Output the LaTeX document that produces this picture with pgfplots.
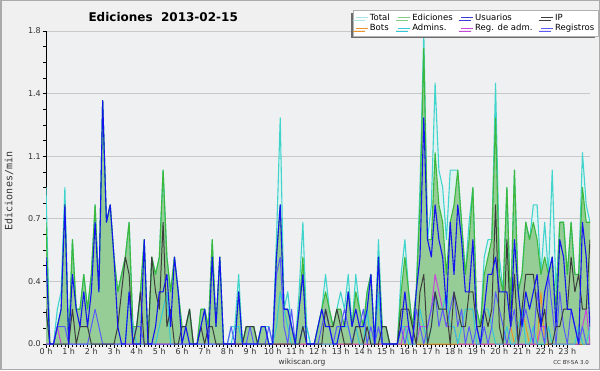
\documentclass[border=0pt]{standalone}
\usepackage{pgfplots}
\pgfplotsset{compat=1.18}
\usepackage{pgfplotstable}
\usepackage{fontspec}
\setmainfont{DejaVu Sans}
\newfontfamily\monofont{DejaVu Sans Mono}
\usetikzlibrary{shadows}

\definecolor{pagebg}{RGB}{240,240,240}
\definecolor{framec}{RGB}{170,170,170}
\definecolor{plotbg}{RGB}{238,240,241}
\definecolor{gridc}{RGB}{200,200,200}
\definecolor{totline}{RGB}{64,212,205}
\definecolor{totfill}{RGB}{222,243,241}
\definecolor{totleg}{RGB}{170,228,228}
\definecolor{edline}{RGB}{60,185,60}
\definecolor{edfill}{RGB}{150,205,150}
\definecolor{edleg}{RGB}{130,205,130}
\definecolor{usu}{RGB}{20,20,240}
\definecolor{usuleg}{RGB}{60,60,220}
\definecolor{ipc}{RGB}{60,60,60}
\definecolor{bots}{RGB}{240,150,40}
\definecolor{adm}{RGB}{50,200,215}
\definecolor{regadm}{RGB}{200,70,220}
\definecolor{reg}{RGB}{90,90,250}
\definecolor{ticklab}{RGB}{51,51,51}

\pgfplotstableread{
i T E U P B A M R
0 0.9 0.7 0.5 0.2 0 0.2 0 0
1 0 0 0 0 0 0 0 0
2 0 0 0 0 0 0 0 0
3 0.2 0.1 0.1 0 0 0 0.1 0.1
4 0.3 0.2 0.2 0 0 0 0 0.1
5 0.9 0.8 0.8 0 0 0 0 0.1
6 0 0 0 0 0 0 0 0
7 0.6 0.6 0.4 0.2 0 0 0 0
8 0.2 0.2 0.2 0 0 0 0 0
9 0.2 0.2 0.1 0.1 0 0 0 0
10 0.4 0.4 0.3 0.1 0 0 0 0
11 0.2 0.2 0.1 0.1 0 0 0 0
12 0.4 0.4 0.3 0 0 0 0 0.1
13 0.8 0.8 0.7 0 0 0 0 0.2
14 0.3 0.3 0.3 0 0 0 0 0.1
15 1.4 1.4 1.4 0 0 0 0 0
16 0.7 0.7 0.7 0 0 0 0 0
17 0.8 0.8 0.8 0 0 0 0 0
18 0.5 0.5 0.5 0 0 0 0 0
19 0.3 0.3 0.1 0.1 0 0 0 0
20 0.4 0.4 0 0.3 0 0 0 0
21 0.5 0.5 0 0.5 0 0 0 0
22 0.7 0.7 0.3 0.4 0 0.3 0 0
23 0.1 0.1 0 0 0 0.1 0 0
24 0.1 0.1 0 0.1 0 0 0 0.1
25 0.3 0.3 0 0.3 0 0 0 0.1
26 0.6 0.6 0.6 0 0 0 0 0
27 0 0 0 0 0 0 0 0
28 0.5 0.5 0 0.5 0 0 0 0
29 0.4 0.4 0.1 0.3 0 0 0 0
30 0.5 0.5 0.3 0.2 0 0.1 0 0
31 1.0 1.0 0.3 0.7 0 0.2 0 0
32 0.5 0.5 0.4 0.1 0 0.3 0 0
33 0.3 0.3 0.1 0.2 0 0 0 0
34 0.5 0.5 0.5 0 0 0 0 0
35 0.3 0.3 0.3 0 0 0 0 0
36 0.1 0.1 0 0.1 0 0 0 0
37 0.1 0.1 0.1 0.1 0 0 0 0
38 0.2 0.2 0 0.2 0 0 0 0
39 0 0 0 0 0 0 0 0
40 0 0 0 0 0 0 0 0
41 0.2 0.2 0.1 0.1 0 0 0 0
42 0.2 0.2 0.2 0 0 0 0 0
43 0.1 0.1 0 0.1 0 0 0 0
44 0.6 0.6 0.5 0.1 0 0 0 0
45 0.1 0.1 0.1 0 0 0 0 0
46 0.5 0.5 0.5 0 0 0 0 0
47 0 0 0 0 0 0 0 0
48 0 0 0 0 0 0 0 0
49 0.1 0 0 0 0 0 0 0.1
50 0.1 0 0 0 0 0.1 0 0
51 0.4 0.3 0.3 0 0 0.1 0 0
52 0 0 0 0 0 0 0 0
53 0.1 0.1 0 0.1 0 0 0 0
54 0.1 0.1 0 0.1 0 0 0 0.1
55 0.1 0.1 0 0.1 0 0 0 0
56 0 0 0 0 0 0 0 0
57 0.1 0.1 0.1 0 0 0 0 0
58 0.1 0.1 0.1 0 0 0 0 0
59 0.1 0 0 0 0 0 0 0.1
60 0 0 0 0 0 0 0 0
61 0.6 0.5 0.5 0 0 0.1 0 0.4
62 1.3 0.8 0.8 0 0 0.3 0 0.5
63 0.2 0.2 0.2 0 0 0.2 0 0.1
64 0.3 0.2 0.2 0 0 0.1 0 0
65 0.1 0.1 0.1 0 0 0 0 0.2
66 0 0 0 0 0 0 0 0
67 0.3 0.2 0.2 0 0 0 0 0
68 0.7 0.5 0.4 0.1 0 0.1 0 0.1
69 0.1 0 0 0 0 0.1 0 0
70 0 0 0 0 0 0 0 0
71 0 0 0 0 0 0 0 0
72 0.1 0.1 0.1 0 0 0 0 0
73 0.2 0.2 0.2 0 0 0 0 0.1
74 0.4 0.3 0.1 0.2 0 0 0 0.2
75 0.2 0.2 0.1 0.1 0 0 0 0.1
76 0.1 0.1 0 0.1 0 0 0 0
77 0.2 0.2 0 0.2 0 0 0 0.1
78 0.3 0.2 0.1 0.1 0 0.1 0 0.1
79 0.2 0.1 0.1 0 0 0.1 0 0.2
80 0.4 0.3 0.3 0 0 0.1 0 0.1
81 0.1 0.1 0.1 0 0 0 0 0
82 0.4 0.3 0.2 0.1 0 0.1 0 0.1
83 0.2 0.2 0.1 0.1 0 0 0 0.1
84 0.1 0.1 0.1 0 0 0 0 0.2
85 0.3 0.3 0.2 0.1 0 0.2 0 0
86 0.4 0.4 0.4 0 0 0 0 0.1
87 0 0 0 0 0 0 0 0
88 0.6 0.5 0.5 0 0 0.3 0 0.1
89 0.1 0.1 0 0.1 0 0 0 0
90 0.1 0.1 0 0.1 0 0 0 0
91 0 0 0 0 0 0 0 0
92 0 0 0 0 0 0 0 0
93 0 0 0 0 0 0 0 0
94 0.4 0.3 0.1 0.2 0 0.1 0 0.1
95 0.6 0.5 0.3 0.2 0 0.1 0.1 0
96 0.3 0.3 0.1 0.2 0 0 0.1 0.1
97 0.1 0.1 0 0.1 0 0 0 0
98 0.3 0.3 0.3 0 0 0 0 0.2
99 0.9 0.8 0.5 0.3 0 0.2 0.1 0.1
100 1.8 1.7 1.3 0.4 0 0.1 0.1 0
101 0.6 0.6 0.6 0 0 0 0.1 0.1
102 0.8 0.6 0.5 0.1 0 0.1 0.2 0.2
103 1.5 1.1 0.8 0.3 0 0.3 0.4 0.3
104 1.0 0.8 0.6 0.2 0 0.2 0.3 0.1
105 0.9 0.7 0.5 0.2 0 0.2 0.2 0.2
106 0.6 0.4 0.2 0.2 0 0.3 0.1 0.1
107 1.0 0.7 0.7 0 0 0.1 0.1 0.2
108 1.0 0.8 0.4 0.3 0 0.1 0.1 0.3
109 1.0 1.0 0.8 0.2 0 0 0 0.1
110 0.7 0.7 0.6 0.1 0 0.1 0 0.2
111 0.4 0.4 0.3 0.1 0 0.2 0 0
112 0.7 0.6 0.3 0.3 0 0.2 0 0.1
113 0.9 0.9 0.6 0.3 0 0.2 0 0
114 0.2 0.2 0.1 0.1 0 0 0 0.1
115 0.1 0.1 0 0.1 0 0 0 0
116 0.5 0.4 0.2 0.2 0 0.2 0 0.1
117 0.6 0.5 0.4 0.1 0 0.2 0 0
118 0.6 0.6 0.4 0.2 0 0.1 0 0.1
119 1.5 1.3 0.5 0.8 0 0 0 0.3
120 0.5 0.4 0.3 0.1 0 0 0 0.2
121 0.3 0.3 0.3 0 0 0 0 0.1
122 0.9 0.9 0.3 0.6 0 0.1 0 0
123 0.2 0.2 0.1 0.1 0.1 0 0 0.1
124 1.0 1.0 0.6 0.4 0 0 0 0.2
125 0.3 0.3 0.3 0 0.1 0.1 0 0
126 0.4 0.4 0.1 0.2 0.2 0.2 0 0.1
127 0.7 0.7 0.3 0.4 0.1 0 0 0.2
128 0.6 0.6 0.2 0.4 0 0 0 0.1
129 0.8 0.7 0.3 0.4 0 0.1 0 0
130 0.8 0.6 0.4 0.2 0 0 0 0.3
131 0.4 0.4 0.1 0.1 0.3 0 0.1 0.1
132 0.7 0.5 0.3 0.2 0 0 0.1 0
133 0.4 0.4 0.4 0 0 0.1 0 0.4
134 1.0 0.5 0.5 0 0 0 0 0.2
135 0.3 0.2 0.1 0.1 0 0 0 0
136 0.7 0.7 0.6 0.1 0 0 0 0.3
137 0.7 0.7 0.5 0.2 0 0 0 0.1
138 0.4 0.4 0.2 0.2 0 0 0 0
139 0.7 0.7 0.2 0.5 0 0 0 0.2
140 0.4 0.4 0.1 0.3 0 0 0 0.1
141 0.4 0.4 0 0.4 0 0.1 0 0
142 1.1 0.9 0.7 0.2 0 0 0.1 0.1
143 0.8 0.7 0.5 0.2 0 0 0.2 0
144 0.7 0.7 0.1 0.6 0 0.1 0 0
}\data

\begin{document}
\begin{tikzpicture}[x=1pt,y=1pt]
\fill[pagebg] (0,0) rectangle (600,370);
\draw[framec, line width=1.5pt] (0.75,0.75) rectangle (599.25,369.25);
\begin{axis}[
  at={(46pt,26pt)}, anchor=south west,
  scale only axis, width=544pt, height=313pt,
  xmin=0, xmax=144, ymin=0, ymax=1.8,
  axis x line*=bottom, axis y line*=left,
  axis line style={-, black, line width=0.9pt},
  axis background/.style={fill=plotbg},
  xtick={0,6,...,138},
  xticklabels={0 h,1 h,2 h,3 h,4 h,5 h,6 h,7 h,8 h,9 h,10 h,11 h,12 h,13 h,14 h,15 h,16 h,17 h,18 h,19 h,20 h,21 h,22 h,23 h},
  minor x tick num=5,
  ytick={0,0.36,0.72,1.08,1.44,1.8},
  yticklabels={0.0,0.4,0.7,1.1,1.4,1.8},
  minor y tick num=3,
  ymajorgrids, major grid style={gridc, line width=0.9pt},
  tick align=outside,
  major tick length=3.5pt, minor tick length=2.8pt,
  tick style={black, line width=0.7pt},
  /pgf/number format/assume math mode=true,
  ticklabel style={font=\fontsize{8}{9}\selectfont, text=ticklab},
  xticklabel style={inner ysep=0.5pt},
  yticklabel style={inner xsep=1.5pt},
  legend columns=4,
  legend cell align=left,
  legend image code/.code={\draw[#1, line width=1pt] (0pt,0pt) -- (12pt,0pt);},
  legend style={at={(1.0147,1.067)}, anchor=north east,
    fill=white, draw=gray!60, line width=0.5pt,
    font=\fontsize{8.5}{9}\selectfont,
    drop shadow={shadow xshift=-2.5pt, shadow yshift=-2.5pt, fill=gray!85!black, opacity=1},
    inner xsep=2pt, inner ysep=2.5pt,
    nodes={inner xsep=1.5pt, inner ysep=1.2pt},
    /tikz/every even column/.append style={column sep=6.5pt}},
  line join=round,
]
\addplot[draw=none, fill=totfill, forget plot] table[x=i,y=T]{\data} \closedcycle;
\addplot[draw=none, fill=edfill, forget plot] table[x=i,y=E]{\data} \closedcycle;
\addplot[totline, line width=1.1pt, forget plot] table[x=i,y=T]{\data};
\addplot[edline, line width=1.1pt, forget plot] table[x=i,y=E]{\data};
\addplot[bots, line width=1pt, forget plot] table[x=i,y=B]{\data};
\addplot[regadm, line width=1pt, forget plot] table[x=i,y=M]{\data};
\addplot[adm, line width=1pt, forget plot] table[x=i,y=A]{\data};
\addplot[reg, line width=1pt, forget plot] table[x=i,y=R]{\data};
\addplot[ipc, line width=1pt, forget plot] table[x=i,y=P]{\data};
\addplot[usu, line width=1.1pt, forget plot] table[x=i,y=U]{\data};
\addlegendimage{totleg}\addlegendentry{Total}
\addlegendimage{edleg}\addlegendentry{Ediciones}
\addlegendimage{usuleg}\addlegendentry{Usuarios}
\addlegendimage{ipc}\addlegendentry{IP}
\addlegendimage{bots}\addlegendentry{Bots}
\addlegendimage{adm}\addlegendentry{Admins.}
\addlegendimage{regadm}\addlegendentry{Reg. de adm.}
\addlegendimage{reg}\addlegendentry{Registros}
\end{axis}
\node[anchor=west, font=\bfseries\fontsize{12}{14}\selectfont] at (85,353) {Ediciones\ \ 2013-02-15};
\node[rotate=90, font=\monofont\fontsize{10}{12}\selectfont, text=ticklab] at (9,179) {Ediciones/min};
\node[font=\fontsize{7.5}{8}\selectfont, text=ticklab, inner sep=1pt] at (302,7.5) {wikiscan.org};
\node[anchor=east, font=\fontsize{5.5}{7}\selectfont, text=ticklab, inner sep=1pt] at (590,7.5) {CC BY-SA 3.0};
\end{tikzpicture}
\end{document}
